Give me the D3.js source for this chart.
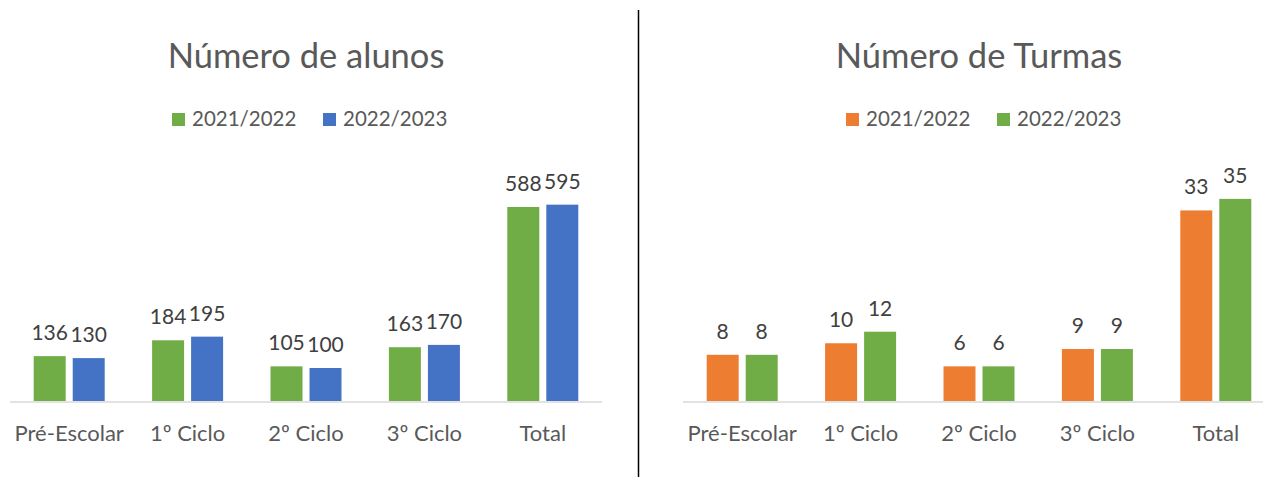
<!DOCTYPE html>
<html>
<head>
<meta charset="utf-8">
<script src="https://cdn.jsdelivr.net/npm/d3@7"></script>
<style>
body{margin:0;background:#fff;}
text{font-family:"Lato","Open Sans",sans-serif;}
</style>
</head>
<body>
<script>
/* two grouped bar charts side by side */
var categories = ["Pré-Escolar", "1º Ciclo", "2º Ciclo", "3º Ciclo", "Total"];
var series = ["2021/2022", "2022/2023"];
var alunos2122 = [136, 184, 105, 163, 588];
var alunos2223 = [130, 195, 100, 170, 595];
var turmas2122 = [8, 10, 6, 9, 33];
var turmas2223 = [8, 12, 6, 9, 35];

var width = 1263, height = 477;
var baseY = 401;

var svg = d3.select("body").append("svg").attr("width", width).attr("height", height);

// divider
svg.append("line").attr("x1", 638.5).attr("x2", 638.5).attr("y1", 10).attr("y2", height)
	.attr("stroke", "#000").attr("stroke-width", 1.5);

function drawChart(opt){
	var g = svg.append("g");
	var x = d3.scaleBand().domain(categories).range(opt.xRange);
	var step = x.bandwidth();
	var xs = d3.scaleBand().domain(series).range([step/2 - 35.5, step/2 + 35.5]).paddingInner(0.18);
	var y = d3.scaleLinear().domain([0, opt.yMax]).range([baseY, baseY - opt.yPx]);

	var rows = [];
	categories.forEach(function(c, i){
		rows.push({cat: c, s: series[0], v: opt.values[0][i], col: opt.colors[0]});
		rows.push({cat: c, s: series[1], v: opt.values[1][i], col: opt.colors[1]});
	});

	g.selectAll(".bar").data(rows).enter().append("rect")
		.attr("class", "bar")
		.attr("x", function(d){return x(d.cat) + xs(d.s);})
		.attr("width", xs.bandwidth())
		.attr("y", function(d){return y(d.v);})
		.attr("height", function(d){return baseY - y(d.v);})
		.attr("fill", function(d){return d.col;});

	g.selectAll(".lbl").data(rows).enter().append("text")
		.attr("class", "lbl")
		.attr("x", function(d){return x(d.cat) + xs(d.s) + xs.bandwidth()/2;})
		.attr("y", function(d){return y(d.v) - 16;})
		.attr("text-anchor", "middle")
		.attr("font-size", "21px").attr("fill", "#404040")
		.text(function(d){return d.v;});

	// axis line
	g.append("line").attr("x1", opt.xRange[0]).attr("x2", opt.xRange[1])
		.attr("y1", baseY + 1).attr("y2", baseY + 1)
		.attr("stroke", "#d9d9d9").attr("stroke-width", 1.5);

	g.selectAll(".cat").data(categories).enter().append("text")
		.attr("class", "cat")
		.attr("x", function(d){return x(d) + step/2;})
		.attr("y", 441)
		.attr("text-anchor", "middle")
		.attr("font-size", "22px").attr("fill", "#595959")
		.text(function(d){return d;});

	g.append("text").attr("x", opt.titleX).attr("y", 68)
		.attr("text-anchor", "middle")
		.attr("font-size", "34.5px").attr("fill", "#595959")
		.text(opt.title);

	var leg = g.selectAll(".leg").data(series).enter().append("g")
		.attr("class", "leg")
		.attr("transform", function(d, i){return "translate(" + opt.legX[i] + ",113)";});
	leg.append("rect").attr("width", 13).attr("height", 13)
		.attr("fill", function(d, i){return opt.colors[i];});
	leg.append("text").attr("x", 20).attr("y", 13)
		.attr("font-size", "20.5px").attr("fill", "#595959")
		.text(function(d){return d;});
}

drawChart({
	title: "Número de alunos", titleX: 306,
	xRange: [10, 602], yMax: 600, yPx: 198,
	values: [alunos2122, alunos2223],
	colors: ["#70ad47", "#4472c4"],
	legX: [172, 323]
});

drawChart({
	title: "Número de Turmas", titleX: 979,
	xRange: [683, 1275], yMax: 40, yPx: 231,
	values: [turmas2122, turmas2223],
	colors: ["#ed7d31", "#70ad47"],
	legX: [846, 997]
});
</script>
</body>
</html>
